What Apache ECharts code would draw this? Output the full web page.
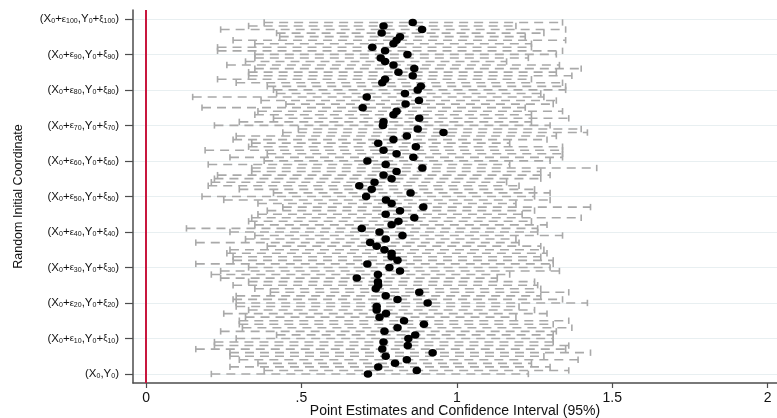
<!DOCTYPE html>
<html>
<head>
<meta charset="utf-8">
<script src="https://cdn.jsdelivr.net/npm/echarts@6/dist/echarts.min.js"></script>
<style>
  html, body { margin: 0; padding: 0; background: #fff; }
  #chart { width: 777px; height: 418px; }
</style>
</head>
<body>
<div id="chart"></div>
<script>
// Point estimates per starting coordinate, row 0 = (X0,Y0), row k = (X0+εk, Y0+ξk)
const estimates = [
  0.714, 0.871, 0.747, 0.801, 0.839, 0.771, 0.922, 0.760, 0.842, 0.764,
  0.844, 0.866, 0.767, 0.809, 0.894, 0.830, 0.751, 0.772, 0.742, 0.742,
  0.906, 0.809, 0.771, 0.879, 0.739, 0.747, 0.746, 0.678, 0.746, 0.817,
  0.783, 0.712, 0.809, 0.790, 0.790, 0.767, 0.742, 0.721, 0.771, 0.825,
  0.751, 0.694, 0.790, 0.812, 0.863, 0.771, 0.817, 0.892, 0.790, 0.772,
  0.708, 0.851, 0.726, 0.686, 0.735, 0.790, 0.764, 0.806, 0.889, 0.771,
  0.712, 0.860, 0.806, 0.764, 0.868, 0.747, 0.796, 0.839, 0.957, 0.874,
  0.762, 0.764, 0.879, 0.796, 0.806, 0.697, 0.835, 0.878, 0.710, 0.833,
  0.874, 0.884, 0.760, 0.769, 0.858, 0.812, 0.863, 0.796, 0.769, 0.755,
  0.841, 0.769, 0.728, 0.796, 0.806, 0.817, 0.758, 0.888, 0.764, 0.858
];

// Lower bounds of the 95% confidence intervals
const lowerBounds = [
  0.21, 0.38, 0.27, 0.36, 0.30, 0.27, 0.27, 0.16, 0.22, 0.22,
  0.29, 0.42, 0.24, 0.31, 0.30, 0.30, 0.32, 0.25, 0.33, 0.29,
  0.29, 0.28, 0.29, 0.40, 0.35, 0.28, 0.33, 0.24, 0.21, 0.24,
  0.33, 0.16, 0.28, 0.28, 0.26, 0.27, 0.39, 0.16, 0.32, 0.35,
  0.27, 0.13, 0.35, 0.33, 0.34, 0.36, 0.39, 0.44, 0.36, 0.25,
  0.18, 0.41, 0.30, 0.20, 0.21, 0.22, 0.23, 0.34, 0.34, 0.20,
  0.38, 0.27, 0.39, 0.19, 0.33, 0.34, 0.28, 0.29, 0.44, 0.49,
  0.22, 0.30, 0.41, 0.35, 0.36, 0.18, 0.45, 0.37, 0.15, 0.42,
  0.41, 0.39, 0.29, 0.23, 0.33, 0.33, 0.35, 0.26, 0.32, 0.35,
  0.35, 0.23, 0.23, 0.35, 0.28, 0.43, 0.42, 0.24, 0.33, 0.38
];

// Upper bounds of the 95% confidence intervals
const upperBounds = [
  1.23, 1.36, 1.30, 1.24, 1.39, 1.28, 1.43, 1.35, 1.36, 1.31,
  1.31, 1.31, 1.32, 1.37, 1.31, 1.36, 1.19, 1.29, 1.25, 1.20,
  1.42, 1.34, 1.27, 1.36, 1.27, 1.26, 1.25, 1.13, 1.17, 1.33,
  1.30, 1.31, 1.31, 1.27, 1.29, 1.28, 1.27, 1.20, 1.19, 1.34,
  1.26, 1.26, 1.29, 1.24, 1.40, 1.21, 1.25, 1.43, 1.19, 1.30,
  1.25, 1.30, 1.25, 1.20, 1.16, 1.27, 1.30, 1.27, 1.45, 1.17,
  1.30, 1.34, 1.34, 1.34, 1.34, 1.17, 1.29, 1.32, 1.42, 1.40,
  1.30, 1.24, 1.36, 1.24, 1.34, 1.22, 1.31, 1.32, 1.28, 1.27,
  1.35, 1.35, 1.34, 1.24, 1.37, 1.32, 1.40, 1.33, 1.16, 1.23,
  1.32, 1.34, 1.24, 1.24, 1.35, 1.22, 1.28, 1.35, 1.19, 1.34
];

// Rows that carry a coordinate label on the vertical axis
const yTickRows = [0, 10, 20, 30, 40, 50, 60, 70, 80, 90, 100];

// Horizontal axis ticks and their printed text
const xTicks = [0, 0.5, 1, 1.5, 2];
const xTickLabels = ['0', '.5', '1', '1.5', '2'];

const ciColor = '#a9a9a9';
const axisColor = '#4d4d4d';
const font = '"Liberation Sans", Arial, Helvetica, sans-serif';

const ciData = estimates.map((_, i) => [i, lowerBounds[i], upperBounds[i]]);
const pointData = estimates.map((v, i) => [v, i]);

function coordLabel(k) {
  if (k === 0) return '{b|(X}{s|0}{b|,Y}{s|0}{b|)}';
  return '{b|(X}{s|0}{b|+}{e|ε}{s|' + k + '}{b|,Y}{s|0}{b|+}{e|ξ}{s|' + k + '}{b|)}';
}

const chart = echarts.init(document.getElementById('chart'), null, { renderer: 'canvas' });

chart.setOption({
  animation: false,
  backgroundColor: '#ffffff',
  grid: { left: 133, right: 0, top: 10, bottom: 35, containLabel: false, outerBoundsMode: 'none' },
  xAxis: {
    type: 'value',
    min: -0.042,
    max: 2.03,
    name: 'Point Estimates and Confidence Interval (95%)',
    nameLocation: 'middle',
    nameGap: 21,
    nameMoveOverlap: false,
    nameTextStyle: { fontFamily: font, fontSize: 14, color: '#111' },
    axisLine: { show: true, onZero: false, lineStyle: { color: axisColor, width: 1.5 } },
    axisTick: { show: true, length: 5, customValues: xTicks, lineStyle: { color: axisColor, width: 1.2 } },
    axisLabel: {
      customValues: xTicks,
      margin: 8,
      fontFamily: font,
      fontSize: 14,
      color: '#111',
      formatter: v => xTickLabels[xTicks.indexOf(v)]
    },
    splitLine: { show: false }
  },
  yAxis: {
    type: 'value',
    min: -2.54,
    max: 102.5,
    name: 'Random Initial Coordinate',
    nameLocation: 'middle',
    nameGap: 108,
    nameMoveOverlap: false,
    nameRotate: 90,
    nameTextStyle: { fontFamily: font, fontSize: 12.5, color: '#111' },
    axisLine: { show: true, onZero: false, lineStyle: { color: axisColor, width: 1.5 } },
    axisTick: { show: true, length: 8, customValues: yTickRows, lineStyle: { color: axisColor, width: 1.2 } },
    axisLabel: {
      customValues: yTickRows,
      margin: 14,
      formatter: v => coordLabel(v),
      rich: {
        b: { fontFamily: font, fontSize: 11.5, color: '#111' },
        e: { fontFamily: font, fontSize: 9.5, color: '#111' },
        s: { fontFamily: font, fontSize: 7, color: '#111', padding: [5, 0, 0, 0] }
      }
    },
    splitLine: { show: true, lineStyle: { color: '#e8eff1', width: 1 } }
  },
  series: [
    {
      type: 'custom',
      name: 'ci',
      data: ciData,
      encode: { x: [1, 2], y: 0 },
      z: 2,
      renderItem: function (params, api) {
        const row = api.value(0);
        const lo = api.coord([api.value(1), row]);
        const hi = api.coord([api.value(2), row]);
        const cap = 3.2;
        const w = 1.6;
        return {
          type: 'group',
          children: [
            { type: 'line', shape: { x1: lo[0], y1: lo[1], x2: hi[0], y2: hi[1] },
              style: { stroke: ciColor, lineWidth: w, lineDash: [9, 6] } },
            { type: 'line', shape: { x1: lo[0], y1: lo[1] - cap, x2: lo[0], y2: lo[1] + cap },
              style: { stroke: ciColor, lineWidth: w } },
            { type: 'line', shape: { x1: hi[0], y1: hi[1] - cap, x2: hi[0], y2: hi[1] + cap },
              style: { stroke: ciColor, lineWidth: w } }
          ]
        };
      }
    },
    {
      type: 'scatter',
      name: 'estimate',
      data: pointData,
      symbol: 'circle',
      symbolSize: [8.5, 7.5],
      itemStyle: { color: '#000000', opacity: 1 },
      z: 4,
      markLine: {
        silent: true,
        symbol: ['none', 'none'],
        label: { show: false },
        lineStyle: { color: '#c8163e', width: 2, type: 'solid', opacity: 1 },
        data: [{ xAxis: 0 }]
      }
    }
  ]
});
</script>
</body>
</html>
